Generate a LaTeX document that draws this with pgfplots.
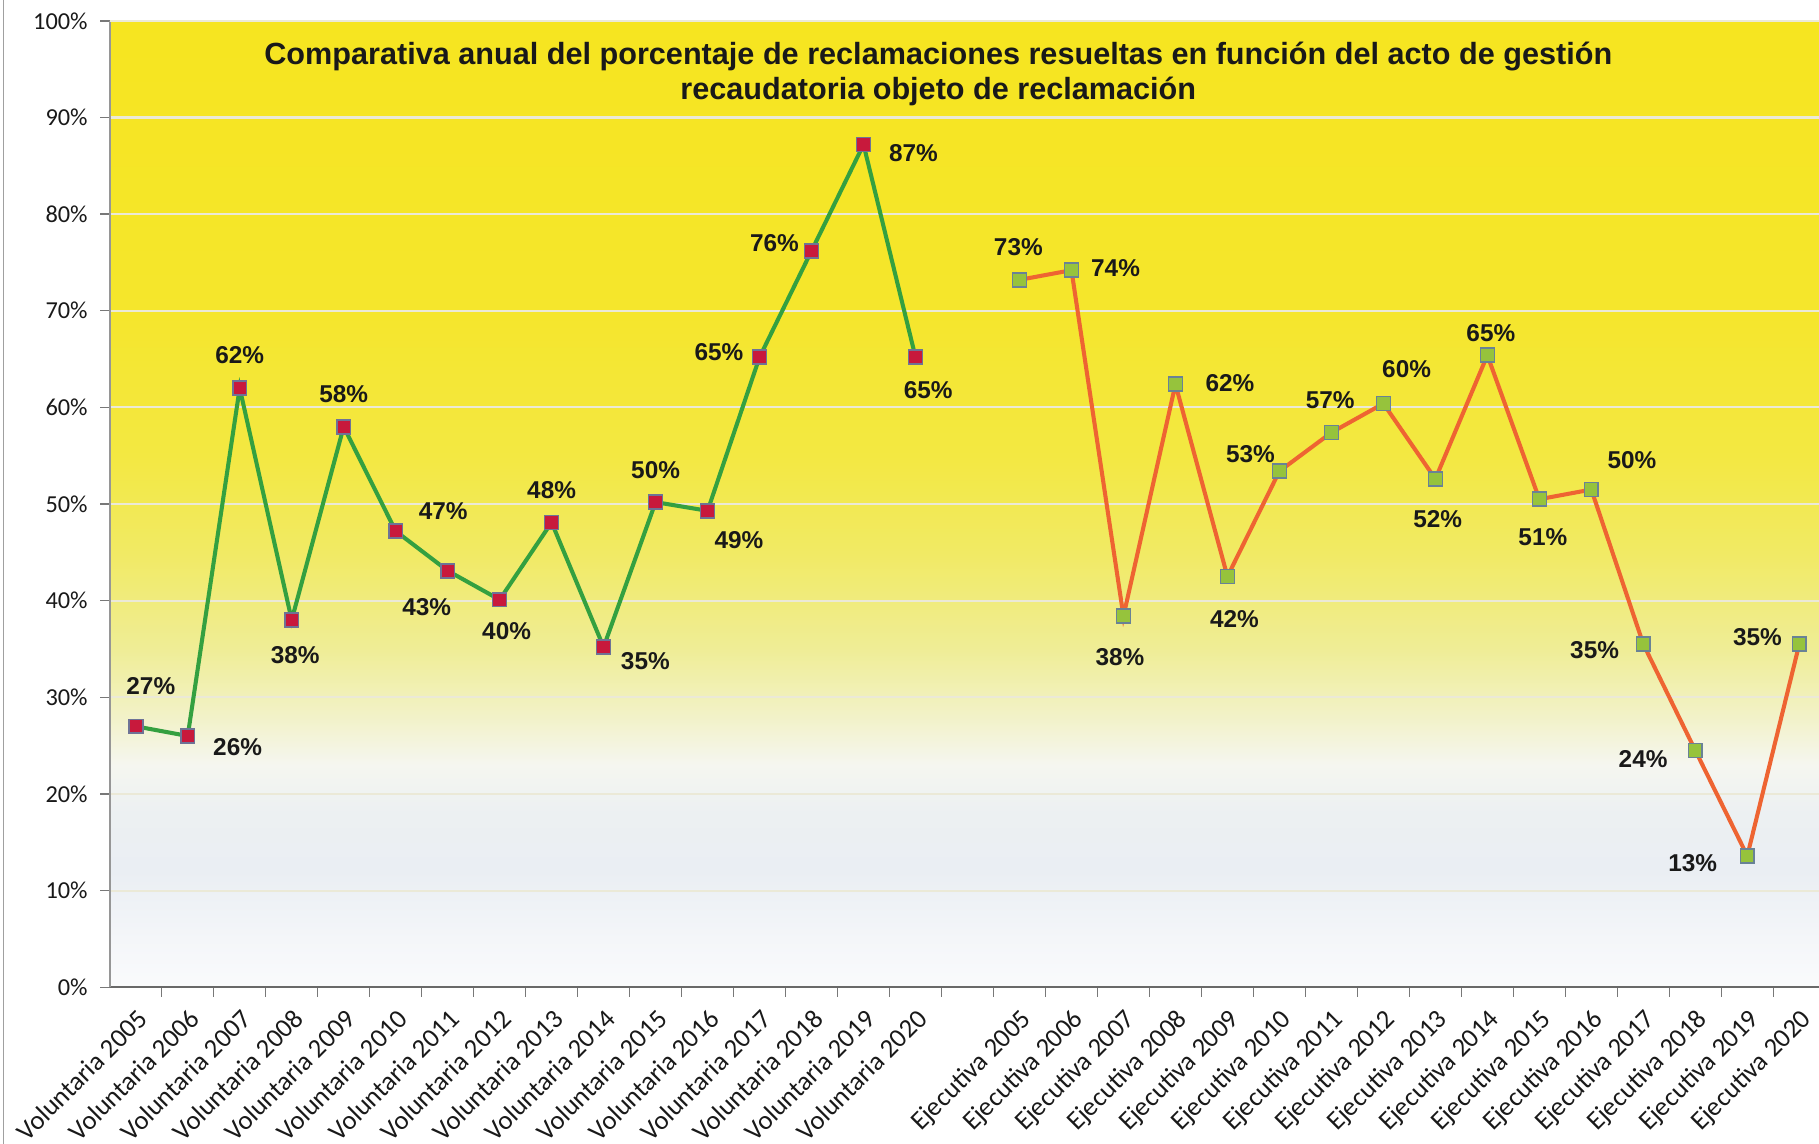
\documentclass[border=0pt]{standalone}
\usepackage{pgfplots}
\pgfplotsset{compat=1.18}
\usepackage{pgfplotstable}
\usepackage{fontspec}
\setmainfont{Carlito}
\newfontfamily\arial{Liberation Sans}

\definecolor{volline}{RGB}{52,160,64}
\definecolor{volfill}{RGB}{200,25,60}
\definecolor{volbord}{RGB}{110,115,150}
\definecolor{ejeline}{RGB}{238,100,50}
\definecolor{ejefill}{RGB}{150,195,60}
\definecolor{ejebord}{RGB}{105,130,150}
\definecolor{gridc}{RGB}{235,233,215}
\definecolor{topline}{RGB}{232,125,60}
\definecolor{txt}{RGB}{25,25,25}

\definecolor{bgA}{RGB}{250,251,252}
\definecolor{bgB}{RGB}{244,246,249}
\definecolor{bgC}{RGB}{234,238,243}
\definecolor{bgD}{RGB}{236,240,242}
\definecolor{bgE}{RGB}{245,246,240}
\definecolor{bgF}{RGB}{242,242,200}
\definecolor{bgG}{RGB}{239,237,150}
\definecolor{bgH}{RGB}{241,234,100}
\definecolor{bgI}{RGB}{243,232,66}
\definecolor{bgJ}{RGB}{245,230,44}
\definecolor{bgK}{RGB}{246,229,32}

\pgfdeclareverticalshading{bgshade}{100bp}{%
color(0bp)=(bgA); color(25bp)=(bgA); color(27.5bp)=(bgB); color(31bp)=(bgC);
color(34bp)=(bgD); color(36.5bp)=(bgE); color(39bp)=(bgF); color(42.5bp)=(bgG);
color(47.5bp)=(bgH); color(52.5bp)=(bgI); color(60bp)=(bgJ); color(75bp)=(bgK);
color(100bp)=(bgK)}

\pgfplotstableread{
x y lab dx dy
0 27.0 27 6.5 17.5
1 26.0 26 21.5 -5
2 62.0 62 0 14
3 38.0 38 1.5 -15
4 58.0 58 0 14
5 47.2 47 20.5 8.5
6 43.1 43 -9 -15.5
7 40.1 40 3 -13.5
8 48.1 48 0 14
9 35.2 35 18 -6
10 50.2 50 0 14
11 49.3 49 13.5 -12.5
12 65.2 65 -17.5 2
13 76.2 76 -16 3.5
14 87.2 87 21.5 -3.5
15 65.2 65 5.5 -14
}\vol

\pgfplotstableread{
x y lab dx dy
17 73.2 73 -0.5 14
18 74.2 74 19 1
19 38.4 38 -1.5 -17.5
20 62.4 62 23.5 0.5
21 42.5 42 3 -18.5
22 53.4 53 -12.5 7.5
23 57.4 57 -0.5 14
24 60.4 60 10 15
25 52.6 52 1 -17.5
26 65.4 65 1.5 9.5
27 50.5 51 1.5 -16.5
28 51.5 50 17.5 12.5
29 35.5 35 -21 -2.5
30 24.5 24 -22.5 -3.5
31 13.6 13 -23.5 -3
32 35.5 35 -18 3
}\eje

\begin{document}
\begin{tikzpicture}
\begin{axis}[
  at={(47.3pt,67.5pt)}, anchor=south west,
  scale only axis, width=739.4pt, height=416.5pt,
  xmin=-0.5, xmax=32.5, ymin=0, ymax=100,
  axis lines*=left,
  axis background/.style={shading=bgshade},
  x axis line style={draw={rgb,255:red,105;green,105;blue,105}, line width=0.9pt},
  y axis line style={draw={rgb,255:red,150;green,150;blue,150}, line width=0.7pt},
  /pgf/number format/assume math mode=true,
  tick align=outside,
  major tick length=0pt,
  minor tick length=4pt,
  minor tick style={draw={rgb,255:red,120;green,120;blue,120}, line width=0.6pt},
  ytick={0,10,...,100},
  minor ytick={0,10,...,100},
  yticklabel={\pgfmathprintnumber{\tick}\%},
  y tick label style={font=\fontsize{10.5}{12}\selectfont, text=txt, xshift=-6pt},
  xtick={0,...,32},
  minor xtick={0.5,1.5,...,31.5},
  xticklabels={Voluntaria 2005,Voluntaria 2006,Voluntaria 2007,Voluntaria 2008,Voluntaria 2009,Voluntaria 2010,Voluntaria 2011,Voluntaria 2012,Voluntaria 2013,Voluntaria 2014,Voluntaria 2015,Voluntaria 2016,Voluntaria 2017,Voluntaria 2018,Voluntaria 2019,Voluntaria 2020,{},Ejecutiva 2005,Ejecutiva 2006,Ejecutiva 2007,Ejecutiva 2008,Ejecutiva 2009,Ejecutiva 2010,Ejecutiva 2011,Ejecutiva 2012,Ejecutiva 2013,Ejecutiva 2014,Ejecutiva 2015,Ejecutiva 2016,Ejecutiva 2017,Ejecutiva 2018,Ejecutiva 2019,Ejecutiva 2020},
  x tick label style={font=\fontsize{11.5}{13}\selectfont, text=txt, inner sep=0pt, yshift=-8.5pt, rotate=45, anchor=north east},
  ymajorgrids=true, xmajorgrids=false,
  major grid style={draw=gridc, line width=0.9pt},
  extra y ticks={100}, extra y tick labels={},
  extra y tick style={grid style={draw=topline, line width=1pt}},
  title={Comparativa anual del porcentaje de reclamaciones resueltas en función del acto de gestión\\recaudatoria objeto de reclamación},
  title style={at={(axis description cs:0.483,0.931)}, anchor=center, align=center, text=txt, font=\arial\bfseries\fontsize{13.2}{15}\selectfont},
  point meta=explicit symbolic,
  nodes near coords={\pgfplotspointmeta\%},
  visualization depends on={\thisrow{dx}\as\labdx},
  visualization depends on={\thisrow{dy}\as\labdy},
  every node near coord/.append style={anchor=center, xshift=\labdx pt, yshift=\labdy pt, font=\arial\bfseries\fontsize{10.5}{12}\selectfont, text=txt},
]
\addplot[color=volline, line width=1.75pt, mark=square*, mark size=3pt,
  mark options={fill=volfill, draw=volbord, line width=0.7pt}]
  table[x=x, y=y, meta=lab] {\vol};
\addplot[color=ejeline, line width=1.75pt, mark=square*, mark size=3pt,
  mark options={fill=ejefill, draw=ejebord, line width=0.7pt}]
  table[x=x, y=y, meta=lab] {\eje};
\end{axis}
\pgfresetboundingbox
\useasboundingbox (0,0) rectangle (784pt,493pt);
\draw[draw={rgb,255:red,160;green,160;blue,160}, line width=0.8pt] (1.5pt,0) -- (1.5pt,493pt);
\end{tikzpicture}
\end{document}
